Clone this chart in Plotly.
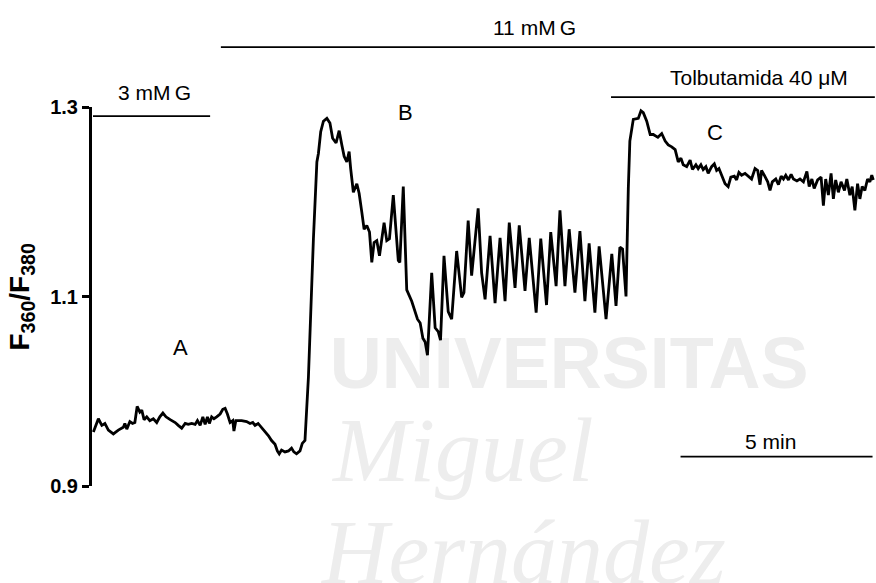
import plotly.graph_objects as go

# Fura-2 ratio trace (F360/F380) against time in minutes
time_min = [
    0.01, 0.14, 0.23, 0.31, 0.40, 0.53, 0.66, 0.79, 0.83, 0.88,
    0.96, 1.03, 1.09, 1.15, 1.22, 1.27, 1.33, 1.40, 1.48, 1.57,
    1.66, 1.74, 1.82, 1.90, 2.01, 2.14, 2.22, 2.31, 2.40, 2.48,
    2.57, 2.66, 2.72, 2.79, 2.86, 2.92, 2.98, 3.03, 3.09, 3.15,
    3.22, 3.31, 3.38, 3.44, 3.50, 3.57, 3.64, 3.67, 3.72, 3.87,
    4.00, 4.09, 4.16, 4.22, 4.30, 4.39, 4.48, 4.57, 4.65, 4.74,
    4.80, 4.85, 4.91, 5.00, 5.09, 5.17, 5.23, 5.30, 5.39, 5.45,
    5.52,
    5.61, 5.74, 5.83, 5.87, 5.93, 6.00, 6.09, 6.17, 6.24, 6.33,
    6.41, 6.48, 6.54, 6.61, 6.67, 6.71, 6.78, 6.87, 6.93, 7.00,
    7.06, 7.13, 7.20, 7.26, 7.32, 7.39, 7.46, 7.58, 7.65, 7.72,
    7.82, 7.95, 7.99, 8.08, 8.17, 8.30, 8.39, 8.45, 8.52, 8.59,
    8.65, 8.71, 8.82, 8.91, 8.99, 9.05, 9.14, 9.25, 9.34, 9.47,
    9.60, 9.66, 9.77, 9.86, 10.03, 10.12, 10.21, 10.34, 10.47, 10.60,
    10.73, 10.84, 10.99, 11.10, 11.25, 11.36, 11.54, 11.66, 11.81, 11.92,
    12.06, 12.16, 12.29, 12.40, 12.55, 12.68, 12.81, 12.92, 13.07, 13.18,
    13.36, 13.51, 13.62, 13.72, 13.79, 13.88,
    13.94, 13.98, 14.07, 14.16, 14.20, 14.27, 14.33, 14.42, 14.51, 14.59,
    14.71, 14.81, 14.90, 14.98, 15.07, 15.16, 15.20, 15.24, 15.31, 15.37,
    15.46, 15.55, 15.61, 15.70, 15.76, 15.83, 15.89, 15.96, 16.02, 16.11,
    16.18, 16.24, 16.30, 16.37, 16.46, 16.54, 16.61, 16.70, 16.76, 16.82,
    16.89, 16.98, 17.06, 17.15, 17.24, 17.31, 17.37, 17.41, 17.48, 17.57,
    17.63, 17.69, 17.78, 17.85, 17.92, 17.98, 18.04, 18.11, 18.18, 18.24,
    18.33, 18.41, 18.50, 18.59, 18.65, 18.72, 18.78, 18.87, 18.96, 19.02,
    19.08, 19.15, 19.22, 19.28, 19.34, 19.41, 19.48, 19.57, 19.63, 19.71,
    19.77, 19.84, 19.91, 19.97, 20.03, 20.10, 20.17, 20.23, 20.28, 20.32,
]

ratio = [
    0.957, 0.971, 0.964, 0.966, 0.959, 0.955, 0.959, 0.962, 0.966, 0.960,
    0.968, 0.966, 0.967, 0.984, 0.978, 0.980, 0.970, 0.973, 0.969, 0.971,
    0.967, 0.973, 0.977, 0.973, 0.970, 0.967, 0.964, 0.961, 0.966, 0.965,
    0.966, 0.965, 0.969, 0.964, 0.973, 0.965, 0.973, 0.966, 0.973, 0.971,
    0.973, 0.976, 0.981, 0.982, 0.976, 0.967, 0.969, 0.958, 0.969, 0.969,
    0.968, 0.966, 0.967, 0.964, 0.966, 0.962, 0.957, 0.953, 0.948, 0.944,
    0.937, 0.934, 0.938, 0.936, 0.937, 0.940, 0.936, 0.934, 0.937, 0.945,
    0.948,
    1.015, 1.161, 1.242, 1.251, 1.274, 1.285, 1.288, 1.283, 1.267, 1.262,
    1.275, 1.260, 1.248, 1.242, 1.253, 1.235, 1.210, 1.219, 1.209, 1.189,
    1.171, 1.175, 1.168, 1.136, 1.157, 1.159, 1.143, 1.178, 1.159, 1.161,
    1.207, 1.138, 1.136, 1.216, 1.107, 1.095, 1.083, 1.076, 1.072, 1.056,
    1.052, 1.038, 1.125, 1.067, 1.063, 1.054, 1.143, 1.084, 1.076, 1.148,
    1.099, 1.104, 1.180, 1.122, 1.193, 1.125, 1.097, 1.164, 1.093, 1.162,
    1.095, 1.178, 1.109, 1.175, 1.106, 1.162, 1.083, 1.161, 1.091, 1.168,
    1.111, 1.191, 1.111, 1.171, 1.104, 1.169, 1.095, 1.156, 1.083, 1.153,
    1.076, 1.145, 1.090, 1.152, 1.150, 1.100,
    1.214, 1.264, 1.287, 1.288, 1.288, 1.296, 1.294, 1.285, 1.271, 1.271,
    1.268, 1.272, 1.264, 1.260, 1.258, 1.255, 1.248, 1.242, 1.246, 1.239,
    1.237, 1.244, 1.234, 1.239, 1.235, 1.239, 1.234, 1.237, 1.230, 1.237,
    1.240, 1.233, 1.235, 1.228, 1.219, 1.216, 1.226, 1.227, 1.223, 1.231,
    1.228, 1.230, 1.227, 1.224, 1.235, 1.233, 1.218, 1.233, 1.228, 1.221,
    1.212, 1.221, 1.224, 1.218, 1.227, 1.224, 1.228, 1.223, 1.229, 1.224,
    1.222, 1.224, 1.221, 1.232, 1.216, 1.224, 1.214, 1.223, 1.226, 1.196,
    1.224, 1.207, 1.230, 1.203, 1.223, 1.210, 1.221, 1.212, 1.224, 1.207,
    1.216, 1.191, 1.219, 1.203, 1.216, 1.212, 1.224, 1.221, 1.228, 1.223,
]

y_ticks = [0.9, 1.1, 1.3]
y_tick_labels = ["0.9", "1.1", "1.3"]

# treatment periods (minutes) and labels
conditions = ["3 mM\u2009G", "11 mM\u2009G", "Tolbutamida 40 \u03bcM"]
cond_start = [0.0, 3.33, 13.49]
cond_end = [3.05, 20.36, 20.36]

phase_labels = ["A", "B", "C"]
phase_t = [2.27, 8.15, 16.2]
phase_r = [1.046, 1.294, 1.273]

scale_bar_start = 15.3
scale_bar_min = 5

FONT = "Liberation Sans, Arial, sans-serif"
SERIF = "Liberation Serif, serif"
MARK = "#ededed"

fig = go.Figure()

# faint background watermark, kept beneath the trace
fig.add_trace(go.Scatter(
    x=[12.4, 9.64], y=[1.022, 0.930],
    mode="text",
    text=["<b>UNIVERSITAS</b>", "<i>Miguel</i>"],
    textfont=dict(family=[FONT, SERIF], size=[72, 92], color=MARK),
    textposition="middle center",
    cliponaxis=False, hoverinfo="skip", showlegend=False,
))

fig.add_trace(go.Scatter(
    x=time_min, y=ratio, mode="lines",
    line=dict(color="black", width=2.8),
    showlegend=False, hoverinfo="skip",
))

shapes = []
annotations = []

annotations.append(dict(text="<i>Hernández</i>", xref="paper", yref="paper",
                        x=0.29, y=-0.035, xanchor="left", yanchor="top",
                        showarrow=False,
                        font=dict(family=SERIF, size=92, color=MARK)))

line_y = [0.976, 1.158, 1.026]
text_y = [1.037, 1.211, 1.079]
text_x = [1.6, 11.5, 17.35]
text_size = [21, 21, 21]
for name, s, e, ly, tx, ty, ts in zip(conditions, cond_start, cond_end,
                                      line_y, text_x, text_y, text_size):
    shapes.append(dict(type="line", xref="x", yref="paper", x0=s, x1=e,
                       y0=ly, y1=ly, line=dict(color="black", width=1.6)))
    annotations.append(dict(text=name, xref="x", yref="paper", x=tx, y=ty,
                            showarrow=False, xanchor="center", yanchor="middle",
                            font=dict(family=FONT, size=ts, color="black")))

for lab, t, r in zip(phase_labels, phase_t, phase_r):
    annotations.append(dict(text=lab, x=t, y=r, xref="x", yref="y",
                            showarrow=False, font=dict(family=FONT, size=22, color="black")))

# 5-minute scale bar
shapes.append(dict(type="line", xref="x", yref="y",
                   x0=scale_bar_start, x1=scale_bar_start + scale_bar_min,
                   y0=0.931, y1=0.931, line=dict(color="black", width=1.6)))
annotations.append(dict(text=f"{scale_bar_min} min", xref="x", yref="y",
                        x=scale_bar_start + scale_bar_min / 2 - 0.15, y=0.947,
                        showarrow=False, font=dict(family=FONT, size=21, color="black")))

# y-axis title
annotations.append(dict(text="<b>F<sub>360</sub>/F<sub>380</sub></b>",
                        xref="paper", yref="paper", x=-0.0893, y=0.5,
                        textangle=-90, showarrow=False, xanchor="center", yanchor="middle",
                        font=dict(family=FONT, size=28, color="black")))

fig.update_layout(
    width=876, height=583,
    margin=dict(l=92, r=0, t=107, b=97),
    paper_bgcolor="white", plot_bgcolor="rgba(0,0,0,0)",
    shapes=shapes, annotations=annotations,
    xaxis=dict(range=[-0.026, 20.39], visible=False),
    yaxis=dict(range=[0.9, 1.3], tickvals=y_ticks, ticktext=y_tick_labels,
               showgrid=False, zeroline=False,
               showline=True, linecolor="black", linewidth=3,
               ticks="outside", ticklen=7, tickwidth=2.5, tickcolor="black",
               tickfont=dict(family=FONT, size=20, color="black", weight="bold")),
)

fig.write_html("out.html")
